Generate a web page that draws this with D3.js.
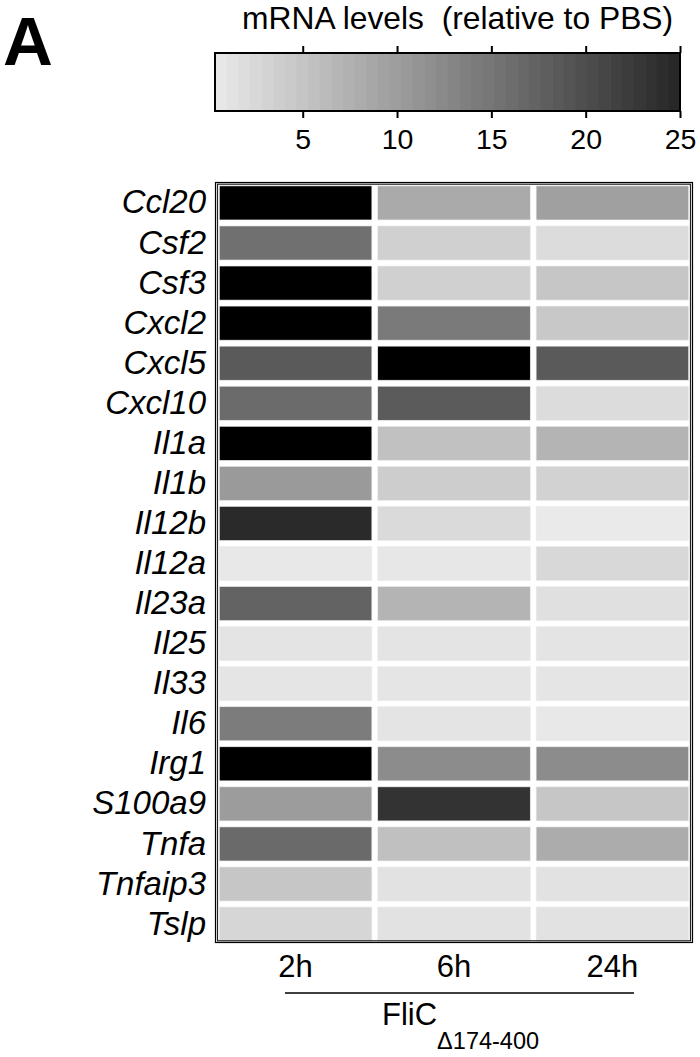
<!DOCTYPE html>
<html>
<head>
<meta charset="utf-8">
<script src="https://cdn.jsdelivr.net/npm/d3@7"></script>
<style>
  html, body { margin: 0; padding: 0; background: #fff; }
  svg { display: block; }
  text { font-family: "Liberation Sans", Arial, Helvetica, sans-serif; fill: #000; }
</style>
</head>
<body>
<svg id="chart" width="700" height="1057"></svg>
<script>
// ---- data ----
const genes = ["Ccl20","Csf2","Csf3","Cxcl2","Cxcl5","Cxcl10","Il1a","Il1b","Il12b","Il12a",
               "Il23a","Il25","Il33","Il6","Irg1","S100a9","Tnfa","Tnfaip3","Tslp"];
const times = ["2h","6h","24h"];
// mRNA levels relative to PBS (values above 25 shown as black)
const values2h  = [30, 15.7, 30, 30, 18.4, 16.3, 30, 10.4, 24.5, 0.5, 17.3, 1.0, 0.9, 14.1, 30, 10.1, 16.4, 4.8, 2.8];
const values6h  = [8.3, 3.5, 3.5, 14.4, 30, 18.3, 5.4, 3.9, 2.3, 0.6, 7.1, 1.0, 0.9, 1.0, 12.1, 23.4, 5.6, 1.3, 1.3];
const values24h = [9.6, 2.0, 4.8, 4.5, 18.4, 2.0, 7.1, 3.3, 0.2, 2.5, 1.5, 1.0, 0.9, 0.5, 12.1, 4.8, 8.1, 1.3, 1.3];
const legendTicks = [5, 10, 15, 20, 25];
const legendDomain = [0.35, 25];
const legendTitle = "mRNA levels  (relative to PBS)";
const panelLabel = "A";
const groupLabel = "FliC";
const groupSub = "\u0394174-400";

const seriesByTime = [values2h, values6h, values24h];
const cells = [];
genes.forEach((g, i) => times.forEach((t, j) => cells.push({gene: g, time: t, value: seriesByTime[j][i]})));

// ---- scales ----
const grayScale = d3.scaleLinear().domain([0, 25]).range([236, 38]).clamp(true);
const color = v => {
  if (v > 25) return "#000";
  const g = Math.round(grayScale(v));
  return d3.rgb(g, g, g).formatHex();
};

const svg = d3.select("#chart");

// panel label
svg.append("text").attr("x", 3).attr("y", 65)
  .attr("font-size", 69).attr("font-weight", "bold").text(panelLabel);

// ---- colour legend ----
const lx = d3.scaleLinear().domain(legendDomain).range([215, 680]);
const legY = 53, legH = 58;
const nSteps = 40;
const stepVals = d3.range(nSteps).map(k => legendDomain[0] + (legendDomain[1] - legendDomain[0]) * k / nSteps);
const stepW = (lx(legendDomain[1]) - lx(legendDomain[0])) / nSteps;
svg.append("g").selectAll("rect").data(stepVals).join("rect")
  .attr("x", d => lx(d))
  .attr("y", legY)
  .attr("width", stepW + 0.6)
  .attr("height", legH)
  .attr("fill", d => color(d + (legendDomain[1] - legendDomain[0]) / nSteps / 2));
svg.append("rect").attr("x", lx(legendDomain[0])).attr("y", legY)
  .attr("width", lx(legendDomain[1]) - lx(legendDomain[0])).attr("height", legH)
  .attr("fill", "none").attr("stroke", "#000").attr("stroke-width", 2);

const axTop = d3.axisTop(lx).tickValues(legendTicks).tickSize(7).tickFormat("");
const gTop = svg.append("g").attr("transform", `translate(0,${legY})`).call(axTop);
gTop.select(".domain").remove();
gTop.selectAll("line").attr("stroke-width", 2);

const axBot = d3.axisBottom(lx).tickValues(legendTicks).tickSize(7).tickPadding(4);
const gBot = svg.append("g").attr("transform", `translate(0,${legY + legH})`).call(axBot);
gBot.select(".domain").remove();
gBot.selectAll("line").attr("stroke-width", 2);
gBot.selectAll("text").attr("font-size", 28.5).attr("font-family", "Liberation Sans, Arial, sans-serif")
  .attr("fill", "#000").attr("dy", "0.95em");

svg.append("text").attr("x", 242).attr("y", 29).attr("font-size", 31.8)
  .attr("xml:space", "preserve").style("white-space", "pre").text(legendTitle);

// ---- heatmap ----
const x = d3.scaleBand().domain(times).range([216, 692]).paddingInner(0.037).paddingOuter(0.021);
const y = d3.scaleBand().domain(genes).range([183.5, 943.5]).paddingInner(0.15).paddingOuter(0.06);

svg.append("g").selectAll("rect").data(cells).join("rect")
  .attr("x", d => x(d.time))
  .attr("y", d => y(d.gene))
  .attr("width", x.bandwidth())
  .attr("height", y.bandwidth())
  .attr("fill", d => color(d.value))
  .attr("stroke", "#ececec").attr("stroke-width", 0.6);

// frame (double line)
svg.append("rect").attr("x", 215.5).attr("y", 182.5).attr("width", 477).attr("height", 760)
  .attr("fill", "none").attr("stroke", "#000").attr("stroke-width", 1.2);
svg.append("rect").attr("x", 217.5).attr("y", 184.2).attr("width", 473).attr("height", 756.6)
  .attr("fill", "none").attr("stroke", "#222").attr("stroke-width", 1.2);

// row labels
const yAxis = d3.axisLeft(y).tickSize(0).tickPadding(10);
const gY = svg.append("g").attr("transform", "translate(216,0)").call(yAxis);
gY.select(".domain").remove();
gY.selectAll("text").attr("font-size", 33).attr("font-style", "italic")
  .attr("font-family", "Liberation Sans, Arial, sans-serif").attr("fill", "#000");

// column labels
const xAxis = d3.axisBottom(x).tickSize(0).tickPadding(0);
const gX = svg.append("g").attr("transform", "translate(0,977)").call(xAxis);
gX.select(".domain").remove();
gX.selectAll("text").attr("font-size", 31).attr("dy", 0)
  .attr("font-family", "Liberation Sans, Arial, sans-serif").attr("fill", "#000");

// group line and label
svg.append("line").attr("x1", 285).attr("x2", 634).attr("y1", 993).attr("y2", 993)
  .attr("stroke", "#000").attr("stroke-width", 1.5);
const gl = svg.append("text").attr("x", 382).attr("y", 1025).attr("font-size", 31);
gl.append("tspan").text(groupLabel);
gl.append("tspan").attr("font-size", 23.5).attr("dy", 24).text(groupSub);
</script>
</body>
</html>
